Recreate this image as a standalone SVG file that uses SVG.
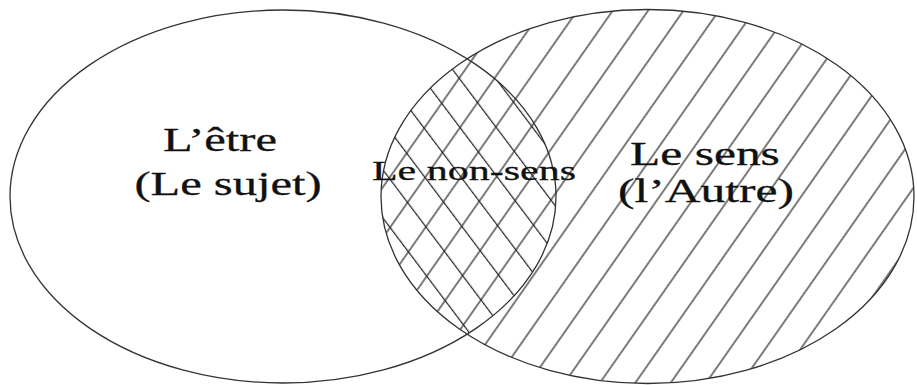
<svg xmlns="http://www.w3.org/2000/svg" width="917" height="385" viewBox="0 0 917 385">
  <style>
    .outline { fill: none; stroke: #333333; stroke-width: 1.3; }
    .hline { stroke: #222222; stroke-width: 1.2; }
    .lbl { font-family: "Liberation Serif", "Times New Roman", serif; fill: #111; stroke: #111; stroke-width: 0.3; text-anchor: middle; }
  </style>
  <defs>
    <pattern id="hatchFwd" patternUnits="userSpaceOnUse" width="29" height="20" patternTransform="rotate(35)">
      <line class="hline" x1="15" y1="-5" x2="15" y2="25"/>
    </pattern>
    <pattern id="hatchBack" patternUnits="userSpaceOnUse" width="29" height="20" patternTransform="rotate(-37)">
      <line class="hline" x1="0.6" y1="-5" x2="0.6" y2="25"/>
    </pattern>
    <clipPath id="clipLeft">
      <ellipse cx="283" cy="196.5" rx="273" ry="186.5"/>
    </clipPath>
  </defs>
  <rect width="917" height="385" fill="#ffffff"/>

  <g id="autre">
    <ellipse cx="647.5" cy="196.5" rx="266.5" ry="187" fill="url(#hatchFwd)"/>
  </g>
  <g id="non-sens">
    <ellipse cx="647.5" cy="196.5" rx="266.5" ry="187" fill="url(#hatchBack)" clip-path="url(#clipLeft)"/>
  </g>
  <g id="sujet">
    <ellipse class="outline" cx="283" cy="196.5" rx="273" ry="186.5"/>
  </g>
  <g id="autre-outline">
    <ellipse class="outline" cx="647.5" cy="196.5" rx="266.5" ry="187"/>
  </g>

  <g id="labels">
    <text class="lbl" font-size="33" transform="translate(220 151) scale(1.47 1)">L’être</text>
    <text class="lbl" font-size="33" transform="translate(228 195) scale(1.47 1)">(Le sujet)</text>
    <text class="lbl" font-size="28" transform="translate(474 180) scale(1.5 1)">Le non-sens</text>
    <text class="lbl" font-size="33" transform="translate(705 165) scale(1.5 1)">Le sens</text>
    <text class="lbl" font-size="33" transform="translate(706 202) scale(1.5 1)">(l’Autre)</text>
  </g>
</svg>
